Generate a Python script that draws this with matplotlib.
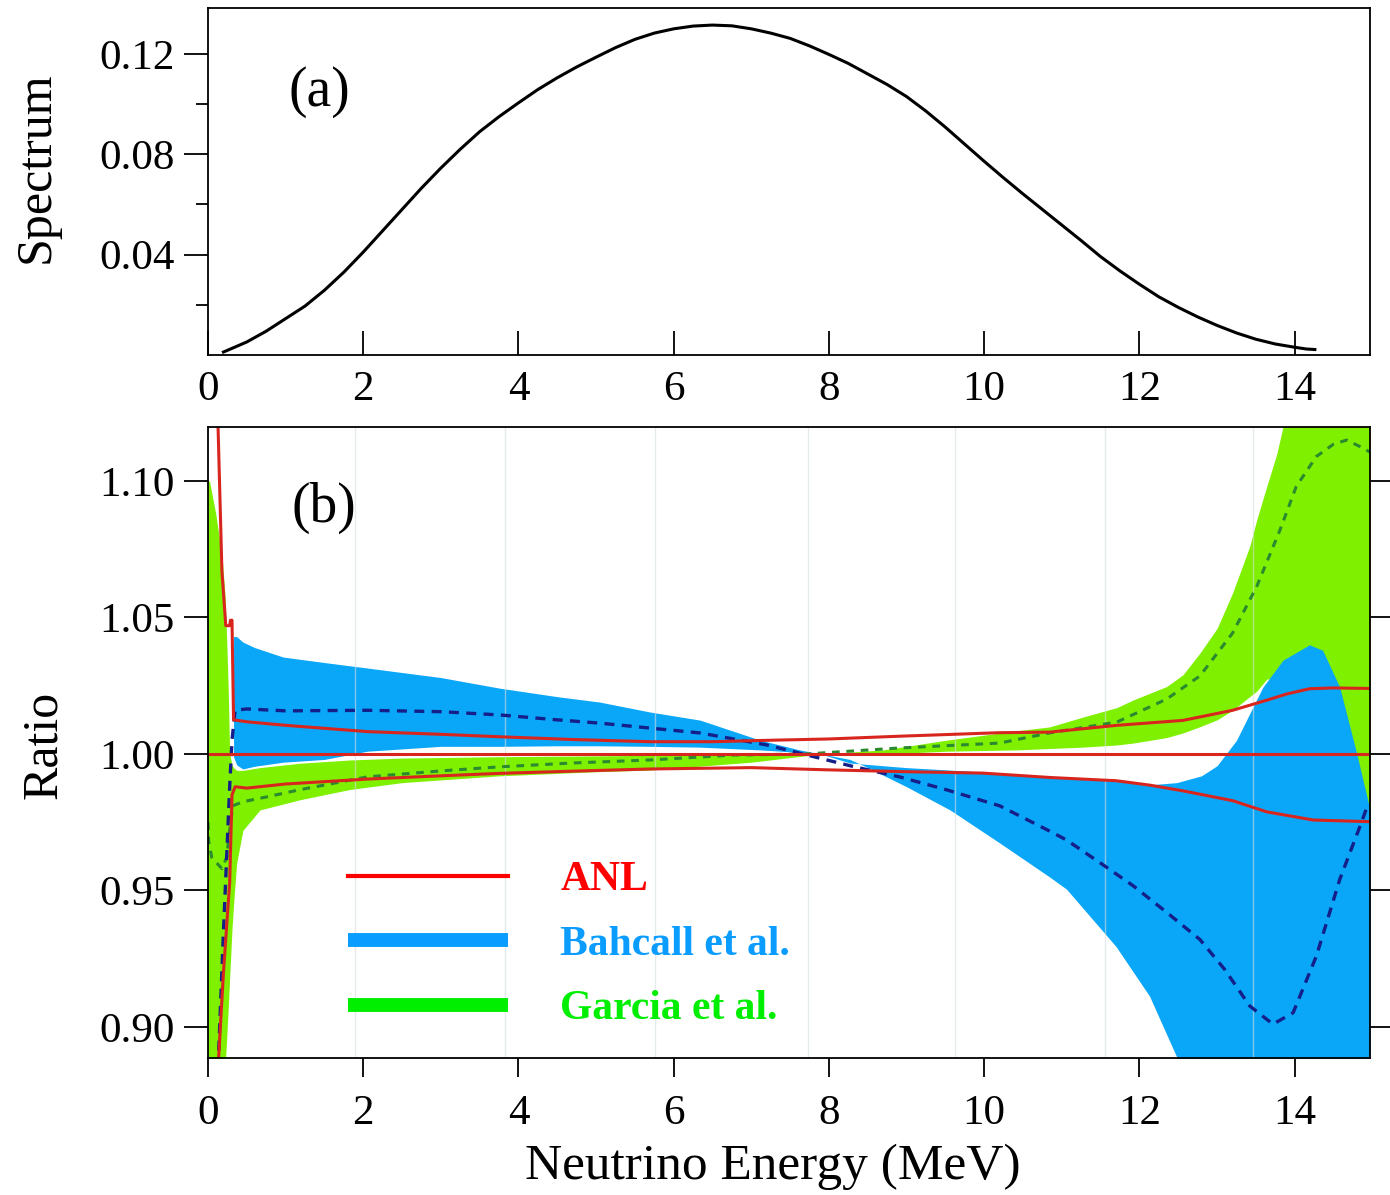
import numpy as np
import matplotlib
matplotlib.use('Agg')
import matplotlib.pyplot as plt
from matplotlib.lines import Line2D

plt.rcParams['font.family'] = ['Liberation Serif', 'DejaVu Serif']

# (a) spectrum
spec_x = [0.2, 0.5, 0.75, 1.0, 1.25, 1.5, 1.75, 2.0, 2.25, 2.5, 2.75, 3.0, 3.25, 3.5, 3.75,
          4.0, 4.25, 4.5, 4.75, 5.0, 5.25, 5.5, 5.75, 6.0, 6.25, 6.5, 6.75, 7.0, 7.25, 7.5,
          7.75, 8.0, 8.25, 8.5, 8.75, 9.0, 9.25, 9.5, 9.75, 10.0, 10.25, 10.5, 10.75, 11.0,
          11.25, 11.5, 11.75, 12.0, 12.25, 12.5, 12.75, 13.0, 13.25, 13.5, 13.75, 14.0,
          14.15, 14.26]
spec_y = [0.0012, 0.0052, 0.0095, 0.0145, 0.0195, 0.0258, 0.0330, 0.0410, 0.0495, 0.0580,
          0.0665, 0.0745, 0.0820, 0.0890, 0.0950, 0.1005, 0.1058, 0.1105, 0.1148, 0.1187,
          0.1225, 0.1258, 0.1283, 0.1300, 0.1311, 0.1315, 0.1312, 0.1300, 0.1283, 0.1262,
          0.1232, 0.1198, 0.1162, 0.1120, 0.1078, 0.1030, 0.0972, 0.0908, 0.0840, 0.0772,
          0.0706, 0.0642, 0.0580, 0.0518, 0.0456, 0.0392, 0.0335, 0.0282, 0.0232, 0.0190,
          0.0152, 0.0118, 0.0088, 0.0063, 0.0044, 0.0031, 0.0024, 0.0022]

# (b) Garcia et al. band
garcia_x = [0.0, 0.02, 0.1, 0.18, 0.22, 0.24, 0.26, 0.28, 0.31, 0.33, 0.37, 0.45, 0.67, 1.18,
            1.83, 2.5, 3.76, 5.0, 5.69, 7.0, 7.9, 8.7, 9.5, 10.42, 10.84, 11.27, 11.71, 11.92,
            12.35, 12.56, 12.78, 13.0, 13.2, 13.42, 13.51, 13.64, 13.77, 13.85, 14.2, 14.5,
            14.8, 14.97]
garcia_hi = [1.10, 1.10, 1.088, 1.073, 1.058, 1.043, 1.025, 1.00, 0.996, 0.995, 0.994, 0.994,
             0.995, 0.9966, 0.9978, 0.9985, 0.999, 0.9993, 0.9995, 0.9998, 1.0, 1.0015, 1.005,
             1.0085, 1.0099, 1.0135, 1.017, 1.0198, 1.0247, 1.029, 1.037, 1.046, 1.059, 1.076,
             1.0857, 1.098, 1.11, 1.12, 1.14, 1.14, 1.14, 1.14]
garcia_lo = [0.87, 0.87, 0.87, 0.87, 0.885, 0.895, 0.906, 0.918, 0.936, 0.945, 0.960, 0.972,
             0.9795, 0.9832, 0.987, 0.9895, 0.992, 0.9935, 0.9941, 0.997, 1.0, 1.0, 1.001,
             1.0015, 1.002, 1.0025, 1.0033, 1.004, 1.006, 1.0077, 1.010, 1.0125, 1.016, 1.021,
             1.023, 1.0274, 1.028, 1.028, 1.02, 1.005, 0.99, 0.978]
garcia_mid_x = [0.0, 0.01, 0.05, 0.18, 0.24, 0.28, 0.32, 0.45, 0.76, 1.2, 2.05, 3.0, 3.76, 4.7,
                5.69, 6.77, 7.7, 8.91, 10.2, 10.84, 11.71, 12.35, 12.78, 13.2, 13.51, 13.81,
                14.02, 14.28, 14.5, 14.67, 14.85, 14.97]
garcia_mid = [0.975, 0.968, 0.962, 0.958, 0.962, 0.972, 0.981, 0.9825, 0.9843, 0.987, 0.9916,
              0.9938, 0.9953, 0.9967, 0.9978, 0.9996, 1.0, 1.0022, 1.004, 1.0077, 1.0117,
              1.0201, 1.0286, 1.0443, 1.0613, 1.082, 1.098, 1.109, 1.1135, 1.115, 1.1125, 1.1106]

# (b) Bahcall et al. band
bahcall_x = [0.33, 0.37, 0.45, 0.6, 0.97, 1.5, 2.05, 3.0, 3.76, 4.5, 5.05, 5.69, 6.34, 7.11,
             7.62, 7.9, 8.27, 8.48, 9.0, 9.56, 10.2, 10.84, 11.06, 11.7, 12.13, 12.48, 12.8,
             13.0, 13.25, 13.59, 13.85, 14.19, 14.36, 14.58, 14.8, 14.95, 14.97]
bahcall_hi = [1.043, 1.043, 1.041, 1.039, 1.0355, 1.0335, 1.0315, 1.028, 1.0241, 1.021, 1.019,
              1.0154, 1.0124, 1.0051, 1.0015, 1.0, 0.9967, 0.9962, 0.995, 0.9941, 0.993,
              0.9916, 0.991, 0.990, 0.9887, 0.9895, 0.992, 0.9957, 1.005, 1.0245, 1.0344, 1.040,
              1.038, 1.0245, 1.0, 0.982, 0.980]
bahcall_lo = [0.999, 0.996, 0.9945, 0.9955, 0.997, 0.998, 1.001, 1.0028, 1.0028, 1.003, 1.003,
              1.0028, 1.0025, 1.0015, 1.0006, 1.0, 0.998, 0.9953, 0.988, 0.9795, 0.9674,
              0.955, 0.9505, 0.9294, 0.9113, 0.889, 0.87, 0.87, 0.87, 0.87, 0.87, 0.87, 0.87,
              0.87, 0.87, 0.87, 0.87]
bahcall_mid_x = [0.13, 0.2, 0.28, 0.31, 0.35, 0.5, 1.0, 2.05, 3.0, 3.76, 4.5, 5.05, 5.69, 6.34,
                 7.2, 7.72, 8.3, 8.91, 9.5, 10.2, 10.84, 11.06, 11.5, 11.92, 12.35, 12.78, 13.1,
                 13.42, 13.72, 13.98, 14.28, 14.58, 14.84, 14.95]
bahcall_mid = [0.885, 0.935, 0.988, 1.005, 1.016, 1.0165, 1.0158, 1.016, 1.0155, 1.0143,
               1.0125, 1.0113, 1.0095, 1.0077, 1.0033, 0.9996, 0.9955, 0.9916, 0.987, 0.981,
               0.9718, 0.9685, 0.960, 0.9517, 0.942, 0.932, 0.921, 0.9077, 0.901, 0.9052,
               0.926, 0.954, 0.9734, 0.982]

# (b) ANL
anl_up_x = [0.12, 0.13, 0.18, 0.23, 0.28, 0.29, 0.31, 0.33, 0.5, 1.0, 2.05, 3.0, 3.76, 4.7,
            5.69, 6.5, 7.2, 8.0, 8.9, 10.2, 10.84, 11.71, 12.56, 13.2, 13.64, 13.9, 14.19,
            14.5, 14.97]
anl_up = [1.14, 1.12, 1.067, 1.047, 1.047, 1.049, 1.049, 1.0125, 1.0118, 1.0105, 1.0082,
          1.0072, 1.0063, 1.0053, 1.0045, 1.0045, 1.005, 1.0055, 1.0065, 1.0078, 1.008,
          1.0105, 1.0123, 1.016, 1.0197, 1.022, 1.0239, 1.0242, 1.024]
anl_lo_x = [0.13, 0.2, 0.28, 0.31, 0.35, 0.5, 1.0, 2.05, 3.0, 3.76, 4.7, 5.69, 7.0, 7.97, 9.0,
            9.98, 10.84, 11.7, 12.13, 12.56, 13.2, 13.64, 14.0, 14.24, 14.97]
anl_lo = [0.885, 0.92, 0.953, 0.985, 0.988, 0.9875, 0.989, 0.9908, 0.992, 0.9929, 0.9937,
          0.9945, 0.995, 0.9942, 0.9935, 0.993, 0.9914, 0.9902, 0.9886, 0.9865, 0.9829,
          0.9788, 0.977, 0.9758, 0.9752]
anl_mid_x = [0.0, 14.97]
anl_mid = [1.0, 1.0]

# faint scan lines seen in the original picture
scan_x = [1.89, 3.83, 5.76, 7.73, 9.62, 11.55, 13.46]

legend_names = ['ANL', 'Bahcall et al.', 'Garcia et al.']
legend_colors = ['#ff0000', '#0a9cff', '#00ee00']

RED = '#d8261f'
BLUE = '#0aa6f8'
GREEN = '#7ff000'
NAVY = '#141f8a'
DGREEN = '#2a8a30'

fig = plt.figure(figsize=(13.9, 11.95), dpi=100)
ax1 = fig.add_axes([0.1496, 0.7029, 0.8360, 0.2904])
ax2 = fig.add_axes([0.1496, 0.1146, 0.8360, 0.5281])

# 上圖：能譜
ax1.plot(spec_x, spec_y, color='black', lw=2.2)
ax1.set_xlim(0, 14.97)
ax1.set_ylim(0, 0.1383)
ax1.set_xticks(np.arange(0, 15, 2))
ax1.set_yticks([0.04, 0.08, 0.12])
ax1.set_yticklabels(['0.04', '0.08', '0.12'])
ax1.set_yticks([0.02, 0.06, 0.10], minor=True)
ax1.tick_params(axis='x', direction='in', length=17, width=1.3, labelsize=31, pad=11)
ax1.tick_params(axis='y', which='major', direction='out', length=17, width=1.3, labelsize=31, pad=7)
ax1.tick_params(axis='y', which='minor', direction='out', length=9, width=1.3)
ax1.set_ylabel('Spectrum', fontsize=36)
ax1.yaxis.set_label_coords(-0.1274, 0.542)
ax1.text(0.0955, 0.758, '(a)', transform=ax1.transAxes, fontsize=40, ha='center', va='center')

# 下圖：比值
ax2.fill_between(garcia_x, garcia_lo, garcia_hi, color=GREEN, lw=0, zorder=1)
ax2.fill_between(bahcall_x, bahcall_lo, bahcall_hi, color=BLUE, lw=0, zorder=2)
for xv in scan_x:
    ax2.axvline(xv, color='#d5dde3', lw=1, alpha=0.6, zorder=3)
ax2.plot(garcia_mid_x, garcia_mid, color=DGREEN, lw=2.2, dashes=(2.5, 2.2), zorder=4)
ax2.plot(bahcall_mid_x, bahcall_mid, color=NAVY, lw=2.4, dashes=(3, 2.2), zorder=4)
ax2.plot(anl_mid_x, anl_mid, color=RED, lw=2.2, zorder=5)
ax2.plot(anl_up_x, anl_up, color=RED, lw=2.2, zorder=5)
ax2.plot(anl_lo_x, anl_lo, color=RED, lw=2.2, zorder=5)

ax2.set_xlim(0, 14.97)
ax2.set_ylim(0.8886, 1.1198)
ax2.set_xticks(np.arange(0, 15, 2))
ax2.set_yticks([0.90, 0.95, 1.00, 1.05, 1.10])
ax2.set_yticklabels(['0.90', '0.95', '1.00', '1.05', '1.10'])
ax2.tick_params(axis='x', direction='out', length=14, width=1.3, labelsize=31, pad=12)
ax2.tick_params(axis='y', direction='out', length=17, width=1.3, labelsize=31, pad=7,
                right=True)
ax2.set_ylabel('Ratio', fontsize=36)
ax2.yaxis.set_label_coords(-0.1216, 0.496)
ax2.set_xlabel('Neutrino Energy (MeV)', fontsize=37)
ax2.xaxis.set_label_coords(0.486, -0.136)
ax2.text(0.0998, 0.8716, '(b)', transform=ax2.transAxes, fontsize=40, ha='center', va='center')

for ax in (ax1, ax2):
    for s in ax.spines.values():
        s.set_linewidth(1.3)
        s.set_zorder(6)

# 圖例
handles = [Line2D([], [], color=legend_colors[0], lw=3),
           Line2D([], [], color=legend_colors[1], lw=10, solid_capstyle='butt'),
           Line2D([], [], color=legend_colors[2], lw=10, solid_capstyle='butt')]
leg = ax2.legend(handles, legend_names, loc='upper left', bbox_to_anchor=(0.1205, 0.312),
                 frameon=False, handlelength=3.85, handletextpad=1.25, labelspacing=0.63,
                 borderpad=0, borderaxespad=0,
                 prop={'family': 'Liberation Serif', 'weight': 'bold', 'size': 30})
for t, c in zip(leg.get_texts(), legend_colors):
    t.set_color(c)

fig.savefig('out.png', dpi=100)
